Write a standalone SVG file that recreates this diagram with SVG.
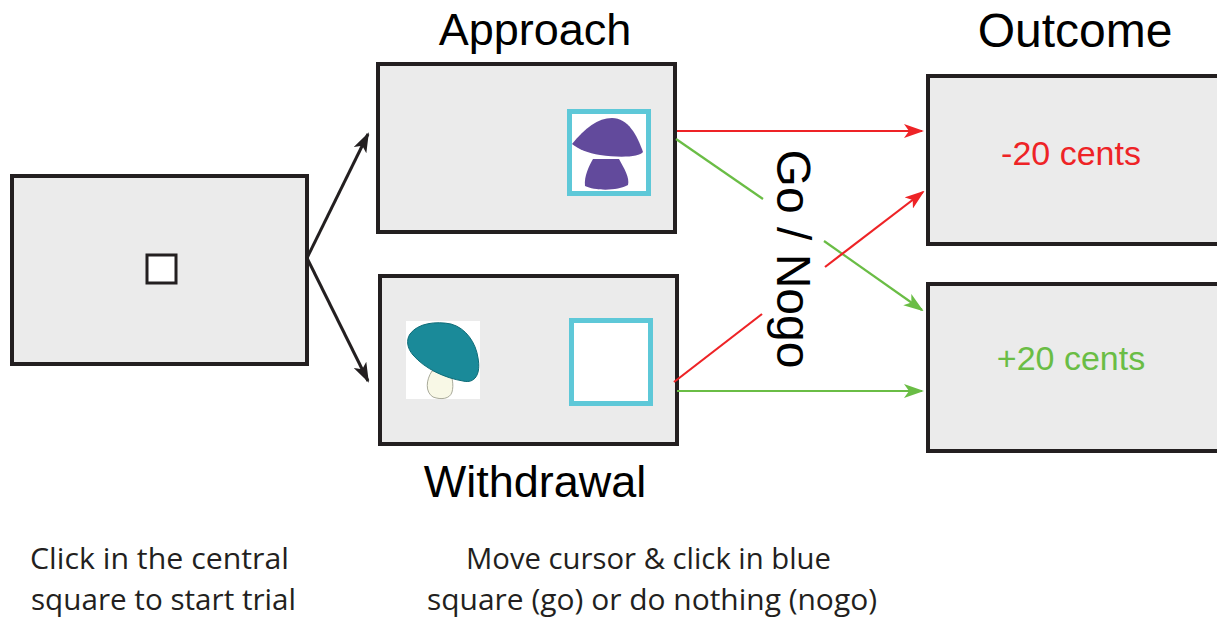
<svg xmlns="http://www.w3.org/2000/svg" width="1217" height="620" viewBox="0 0 1217 620">
  <style>
    .box { fill: #ebebeb; stroke: #231f20; stroke-width: 4; }
    .target { fill: #ffffff; stroke: #5ec8d8; stroke-width: 5; }
    .title { font-family: "Liberation Sans", Arial, sans-serif; font-size: 45px; fill: #000; text-anchor: middle; }
    .cents { font-family: "Liberation Sans", Arial, sans-serif; font-size: 34px; text-anchor: middle; }
    .note { font-family: "Open Sans", "Noto Sans", sans-serif; font-size: 30px; fill: #231f20; }
    .black { stroke: #231f20; stroke-width: 3; fill: none; }
    .red { stroke: #ee2326; stroke-width: 2.2; fill: none; }
    .green { stroke: #6abd45; stroke-width: 2.2; fill: none; }
  </style>
  <defs>
    <marker id="headBlack" viewBox="0 0 20 14" refX="18" refY="7" markerWidth="20" markerHeight="14" markerUnits="userSpaceOnUse" orient="auto">
      <path d="M0,0 L20,7 L0,14 L5,7 Z" fill="#231f20"/>
    </marker>
    <marker id="headRed" viewBox="0 0 20 14" refX="18" refY="7" markerWidth="20" markerHeight="14" markerUnits="userSpaceOnUse" orient="auto">
      <path d="M0,0 L20,7 L0,14 L5,7 Z" fill="#ee2326"/>
    </marker>
    <marker id="headGreen" viewBox="0 0 20 14" refX="18" refY="7" markerWidth="20" markerHeight="14" markerUnits="userSpaceOnUse" orient="auto">
      <path d="M0,0 L20,7 L0,14 L5,7 Z" fill="#6abd45"/>
    </marker>
  </defs>

  <rect width="1217" height="620" fill="#ffffff"/>

  <!-- start screen -->
  <g id="start">
    <rect class="box" x="12" y="176" width="295" height="188"/>
    <rect x="147" y="255" width="29" height="28" fill="#ffffff" stroke="#231f20" stroke-width="3"/>
  </g>

  <!-- approach trial -->
  <g id="approach">
    <text class="title" x="535" y="45">Approach</text>
    <rect class="box" x="378" y="64" width="297" height="168"/>
    <rect class="target" x="569.5" y="111.5" width="79" height="82"/>
    <!-- purple mushroom -->
    <path d="M572,144 C585,128 598,118 612,118 C628,118 637,135 643,152 C640,157 620,158 600,155 C588,153 578,149 572,144 Z" fill="#624a9c"/>
    <path d="M593,159 L619,159 C624,168 630,178 628,185 C618,191 595,191 585,186 C584,176 589,166 593,159 Z" fill="#624a9c"/>
  </g>

  <!-- withdrawal trial -->
  <g id="withdrawal">
    <rect class="box" x="380" y="276" width="297" height="168"/>
    <rect class="target" x="571.5" y="320.5" width="79" height="83"/>
    <rect x="406" y="321" width="74" height="78" fill="#ffffff"/>
    <!-- teal mushroom -->
    <path d="M432,371 C426,380 425,392 433,397 C441,400 450,399 452,392 C454,385 452,377 450,371 Z" fill="#f8f8e6" stroke="#a9aa9a" stroke-width="1"/>
    <path d="M410,334 C418,323 436,321 451,324 C466,328 476,343 478,358 C481,374 475,384 463,381 C445,378 425,369 413,355 C407,348 406,340 410,334 Z" fill="#1a8a99" stroke="#0e6c78" stroke-width="1"/>
    <text class="title" x="535" y="497">Withdrawal</text>
  </g>

  <!-- outcome screens -->
  <g id="outcome-loss">
    <text class="title" x="1075" y="47" style="font-size:48px">Outcome</text>
    <rect class="box" x="928" y="76" width="295" height="168"/>
    <text class="cents" x="1071" y="165" fill="#ee2326">-20 cents</text>
  </g>
  <g id="outcome-win">
    <rect class="box" x="928" y="284" width="295" height="167"/>
    <text class="cents" x="1071" y="370" fill="#6abd45">+20 cents</text>
  </g>

  <!-- response label -->
  <g id="go-nogo">
    <text class="title" x="0" y="0" transform="translate(777,259) rotate(90)" style="font-size:48px">Go / Nogo</text>
  </g>

  <!-- connectors -->
  <g id="connectors">
    <path class="black" d="M307,258 L368,134" marker-end="url(#headBlack)"/>
    <path class="black" d="M307,258 L368,381" marker-end="url(#headBlack)"/>
    <path class="red" d="M677,131 L922,131" marker-end="url(#headRed)"/>
    <path class="green" d="M676,139 L763,199"/>
    <path class="green" d="M824,241 L922,310" marker-end="url(#headGreen)"/>
    <path class="red" d="M674,382 L762,314"/>
    <path class="red" d="M825,267 L923,192" marker-end="url(#headRed)"/>
    <path class="green" d="M677,391 L922,391" marker-end="url(#headGreen)"/>
  </g>

  <!-- instructions -->
  <g id="notes">
    <text class="note" x="30" y="569" textLength="259" lengthAdjust="spacingAndGlyphs">Click in the central</text>
    <text class="note" x="31" y="610" textLength="265" lengthAdjust="spacingAndGlyphs">square to start trial</text>
    <text class="note" x="466" y="569" textLength="365" lengthAdjust="spacingAndGlyphs">Move cursor &amp; click in blue</text>
    <text class="note" x="427" y="610" textLength="450" lengthAdjust="spacingAndGlyphs">square (go) or do nothing (nogo)</text>
  </g>
</svg>
